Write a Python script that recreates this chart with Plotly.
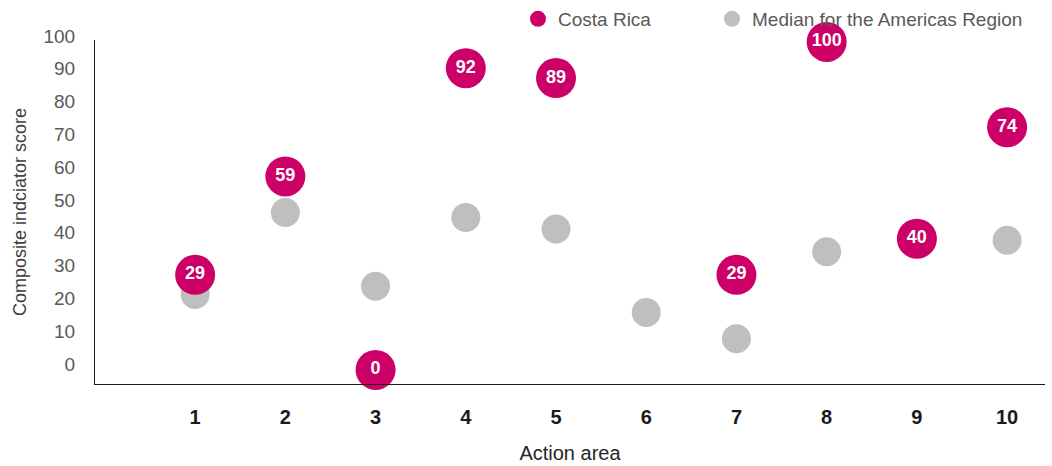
import plotly.graph_objects as go

areas = [1, 2, 3, 4, 5, 6, 7, 8, 9, 10]
costa_rica = [29, 59, 0, 92, 89, None, 29, 100, 40, 74]
median_americas = [23, 48, 25.5, 46.5, 43, 17.5, 9.5, 36, 39, 39.5]
y_ticks = [0, 10, 20, 30, 40, 50, 60, 70, 80, 90, 100]

MAGENTA = "#CC0066"
GREY = "#BFBFBF"
FONT = "Liberation Sans"

W, H = 1052, 466
ML, MR, MT, MB = 95, 7, 40, 82
PW = W - ML - MR

fig = go.Figure()
fig.add_trace(go.Scatter(
    x=areas, y=median_americas, mode="markers", name="Median for the Americas Region",
    marker=dict(color=GREY, size=29, line=dict(width=0)), legend="legend2",
    cliponaxis=False,
))
cr_x = [a for a, v in zip(areas, costa_rica) if v is not None]
cr_y = [v for v in costa_rica if v is not None]
fig.add_trace(go.Scatter(
    x=cr_x, y=cr_y, mode="markers+text", name="Costa Rica",
    marker=dict(color=MAGENTA, size=40, line=dict(width=0)),
    text=[str(v) for v in cr_y], textposition="middle center",
    textfont=dict(color="white", size=18, family=FONT, weight="bold"),
    legend="legend", cliponaxis=False,
))

leg_common = dict(
    orientation="h", yanchor="top", yref="container", y=1.0,
    font=dict(size=19, color="#595959", family=FONT),
    bgcolor="rgba(0,0,0,0)", itemwidth=30,
)

fig.update_layout(
    width=W, height=H,
    margin=dict(l=ML, r=MR, t=MT, b=MB, autoexpand=False),
    paper_bgcolor="white", plot_bgcolor="white",
    font=dict(family=FONT, color="#595959", size=17),
    showlegend=True,
    legend=dict(x=(518 - ML) / PW, xanchor="left", **leg_common),
    legend2=dict(x=(712 - ML) / PW, xanchor="left", **leg_common),
    xaxis=dict(
        range=[-0.11, 10.42], tickvals=areas, ticktext=[str(a) for a in areas],
        showgrid=False, zeroline=False, showline=True, linecolor="#1a1a1a", linewidth=1.2,
        ticks="", tickfont=dict(size=20, color="#1a1a1a", family=FONT, weight="bold"),
        ticklabelstandoff=15, automargin=False,
        title=dict(text="Action area", font=dict(size=20, color="#262626", family=FONT), standoff=18),
    ),
    yaxis=dict(
        range=[-4.3, 100.6], tickvals=y_ticks, ticktext=[str(t) for t in y_ticks],
        showgrid=False, zeroline=False, showline=True, linecolor="#1a1a1a", linewidth=1.2,
        ticks="", tickfont=dict(size=19, color="#595959", family=FONT),
        ticklabelstandoff=15, ticklabelshift=-6, automargin=False,
        title=dict(text="Composite indciator score",
                   font=dict(size=18, color="#404040", family=FONT),
                   standoff=12),
    ),
)

fig.write_html("out.html", config={"displayModeBar": False},
               post_script="document.body.style.margin='0';document.body.style.padding='0';")
